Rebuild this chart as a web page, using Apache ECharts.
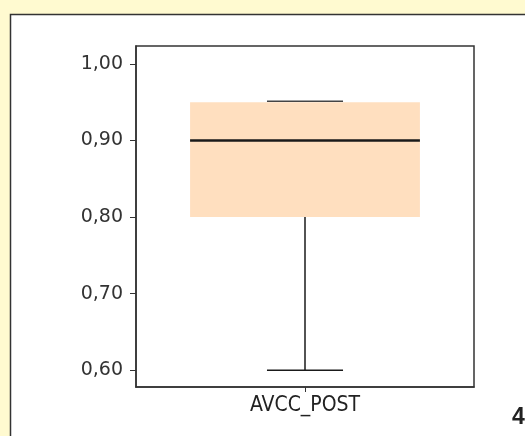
<!DOCTYPE html>
<html>
<head>
<meta charset="utf-8">
<script src="https://cdn.jsdelivr.net/npm/echarts@6/dist/echarts.min.js"></script>
<style>html,body{margin:0;padding:0;background:#FFFAD0;}#c{width:525px;height:436px;}</style>
</head>
<body>
<div id="c"></div>
<script>
var categories = ['AVCC_POST'];
// [min, Q1, median, Q3, max]
var boxValues = [[0.60, 0.80, 0.90, 0.95, 0.95]];
var yTicks = [0.60, 0.70, 0.80, 0.90, 1.00];
var pageNumber = '4';

var chart = echarts.init(document.getElementById('c'), null, {renderer: 'canvas'});

function renderBox(params, api) {
  var x = api.value(0);
  var vmin = api.value(1), q1 = api.value(2), med = api.value(3), q3 = api.value(4), vmax = api.value(5);
  var band = api.size([1, 0])[0];
  var boxW = band * 0.68;
  var capW = band * 0.225;
  var pMin = api.coord([x, vmin]);
  var pQ1 = api.coord([x, q1]);
  var pMed = api.coord([x, med]);
  var pQ3 = api.coord([x, q3]);
  var pMax = api.coord([x, vmax]);
  var cx = pMin[0];
  var lineStyle = {stroke: '#1a1a1a', lineWidth: 1.5};
  return {
    type: 'group',
    children: [
      {type: 'rect', shape: {x: cx - boxW / 2, y: pQ3[1], width: boxW, height: pQ1[1] - pQ3[1]}, style: {fill: '#FFDFBF'}},
      {type: 'line', shape: {x1: cx, y1: pQ1[1], x2: cx, y2: pMin[1]}, style: lineStyle},
      {type: 'line', shape: {x1: cx, y1: pQ3[1], x2: cx, y2: pMax[1]}, style: lineStyle},
      {type: 'line', shape: {x1: cx - capW / 2, y1: pMin[1], x2: cx + capW / 2, y2: pMin[1]}, style: lineStyle},
      {type: 'line', shape: {x1: cx - capW / 2, y1: pMax[1] - 1, x2: cx + capW / 2, y2: pMax[1] - 1}, style: {stroke: '#444', lineWidth: 1.5}},
      {type: 'line', shape: {x1: cx - boxW / 2, y1: pMed[1], x2: cx + boxW / 2, y2: pMed[1]}, style: {stroke: '#1a1a1a', lineWidth: 2.5}}
    ]
  };
}

var option = {
  backgroundColor: '#FFFAD0',
  animation: false,
  graphic: [
    {type: 'rect', z: -10, shape: {x: 10.5, y: 14.5, width: 600, height: 500}, style: {fill: '#ffffff', stroke: '#333', lineWidth: 1.5}},
    {type: 'text', left: 512, top: 406, style: {text: pageNumber, font: 'bold 23px "Liberation Sans"', fill: '#222'}}
  ],
  grid: {left: 136, right: 51, top: 46, bottom: 49, show: true, borderColor: '#333', borderWidth: 1.5, backgroundColor: 'transparent'},
  xAxis: {
    type: 'category',
    data: categories,
    axisLine: {show: true, lineStyle: {color: '#333', width: 1.5}},
    axisTick: {show: true, alignWithLabel: true, length: 5, lineStyle: {color: '#333'}},
    axisLabel: {margin: 8, color: '#222', fontFamily: '"Liberation Sans Narrow", "DejaVu Sans Condensed", sans-serif', fontSize: 21},
    splitLine: {show: false}
  },
  yAxis: {
    type: 'value',
    min: 0.578,
    max: 1.0235,
    axisLine: {show: true, lineStyle: {color: '#333', width: 1.5}},
    axisTick: {show: true, length: 6, customValues: yTicks, lineStyle: {color: '#333'}},
    axisLabel: {
      margin: 13, color: '#333', fontFamily: '"DejaVu Sans", sans-serif', fontSize: 19,
      customValues: yTicks,
      formatter: function (v) { return v.toFixed(2).replace('.', ','); }
    },
    splitLine: {show: false}
  },
  series: [{
    type: 'custom',
    renderItem: renderBox,
    encode: {x: 0, y: [1, 2, 3, 4, 5]},
    data: boxValues.map(function (b, i) { return [i].concat(b); })
  }]
};
chart.setOption(option);
</script>
</body>
</html>
